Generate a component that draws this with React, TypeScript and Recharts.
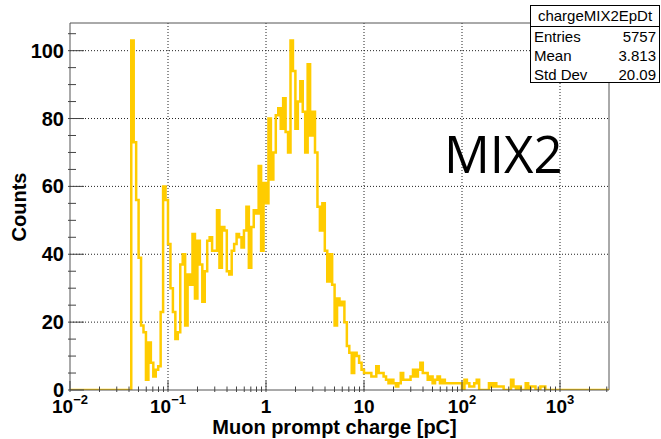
import React from "react";
import { LineChart, Line, XAxis, YAxis, ReferenceLine } from "recharts";

// log bins: 40 per decade from 1e-2 to 10^3.5
const binsPerDecade = 40;
const logMin = -2;
const logMax = 3.5;

const counts = [
  0, 0, 0, 0, 0, 0, 0, 0, 0, 0, 0, 0, 0, 0, 0, 0, 0, 0, 0, 0,
  0, 0, 0, 0, 0, 103, 73, 56, 39, 19, 17, 3, 14, 8, 4, 6, 7, 23, 60, 56,
  43, 30, 23, 15, 17, 37, 40, 19, 34, 31, 46, 27, 44, 37, 26, 35, 44, 45, 41, 41,
  53, 36, 48, 47, 35, 34, 41, 43, 46, 45, 42, 47, 54, 36, 48, 53, 52, 66, 41, 61,
  55, 80, 62, 70, 81, 83, 77, 86, 76, 70, 103, 94, 77, 85, 91, 82, 70, 96, 75, 82,
  70, 54, 47, 55, 41, 32, 40, 31, 19, 27, 25, 26, 20, 13, 11, 5, 11, 10, 8, 6,
  5, 5, 5, 4, 4, 7, 5, 5, 4, 3, 2, 3, 2, 1, 2, 5, 3, 3, 3, 4,
  6, 4, 6, 8, 5, 5, 3, 4, 2, 3, 4, 2, 3, 2, 2, 2, 2, 2, 2, 2,
  0, 3, 2, 1, 1, 2, 3, 0, 0, 0, 0, 2, 1, 2, 1, 1, 1, 0, 0, 0,
  3, 1, 0, 1, 0, 0, 2, 0, 1, 1, 0, 0, 1, 1, 0, 0, 0, 0, 0, 0,
  0, 0, 0, 0, 0, 0, 0, 0, 0, 0, 0, 0, 0, 0, 0, 0, 0, 0, 0, 0,
];

const xMajorTicks = [0.01, 0.1, 1, 10, 100, 1000];
const xMajorBase = ["10", "10", "1", "10", "10", "10"];
const xMajorExp = ["\u22122", "\u22121", "", "", "2", "3"];
const yTicks = [0, 5, 10, 15, 20, 25, 30, 35, 40, 45, 50, 55, 60, 65, 70, 75, 80, 85, 90, 95, 100, 105];
const yLabelled = [0, 20, 40, 60, 80, 100];

const statsTitle = "chargeMIX2EpDt";
const statsNames = ["Entries", "Mean", "Std Dev"];
const statsValues = ["5757", "3.813", "20.09"];

const xMin = 10 ** logMin;
const xMax = 10 ** logMax;
const yMax = 108.15;

const histData = counts.map((c, i) => ({ x: 10 ** (logMin + i / binsPerDecade), y: c }));
histData.push({ x: xMax, y: counts[counts.length - 1] });

// minor ticks 1..9 per decade
const xTicks: number[] = [];
for (let d = -2; d <= 3; d++) {
  for (let m = 1; m <= 9; m++) {
    const v = m * 10 ** d;
    if (v <= xMax) xTicks.push(v);
  }
}

const font = "'Liberation Sans', Arial, sans-serif";

function XTick(props: any) {
  const { x, y, payload } = props;
  const i = xMajorTicks.findIndex((t) => Math.abs(t - payload.value) / t < 1e-6);
  const len = i >= 0 ? 11 : 5.5;
  return (
    <g>
      <line x1={x} y1={y} x2={x} y2={y - len} stroke="#444" />
      {i >= 0 && (
        <text x={x} y={y + 21} textAnchor="middle" fontFamily={font} fontWeight="bold" fontSize={19} fill="#000">
          {xMajorBase[i]}
          {xMajorExp[i] && (
            <tspan dy={-9} fontSize={13}>
              {xMajorExp[i]}
            </tspan>
          )}
        </text>
      )}
    </g>
  );
}

function YTick(props: any) {
  const { x, y, payload } = props;
  const major = yLabelled.includes(payload.value);
  const len = major ? 16 : 8;
  return (
    <g>
      <line x1={x} y1={y} x2={x + len} y2={y} stroke="#444" />
      {major && (
        <text x={x - 4} y={y} dy="0.35em" textAnchor="end" fontFamily={font} fontWeight="bold" fontSize={20} fill="#000">
          {payload.value}
        </text>
      )}
    </g>
  );
}

const grid = { stroke: "#222", strokeDasharray: "1 2", strokeWidth: 1 };

export default function App() {
  return (
    <div style={{ position: "absolute", left: 0, top: 0, width: 661, height: 439, background: "#fff", fontFamily: font }}>
      <LineChart width={661} height={439} data={histData} margin={{ top: 23, right: 52, bottom: 0, left: 0 }}>
        <XAxis
          dataKey="x"
          type="number"
          scale="log"
          domain={[xMin, xMax]}
          ticks={xTicks}
          interval={0}
          tick={<XTick />}
          tickLine={false}
          tickSize={0}
          height={49}
          axisLine={{ stroke: "#555" }}
          allowDataOverflow
        />
        <YAxis
          type="number"
          domain={[0, yMax]}
          ticks={yTicks}
          interval={0}
          tick={<YTick />}
          tickLine={false}
          tickSize={0}
          width={70}
          axisLine={{ stroke: "#555" }}
          allowDataOverflow
        />
        {xMajorTicks.slice(1).map((v) => (
          <ReferenceLine key={"gx" + v} x={v} {...grid} />
        ))}
        {yLabelled.slice(1).map((v) => (
          <ReferenceLine key={"gy" + v} y={v} {...grid} />
        ))}
        <ReferenceLine x={xMax} stroke="#555" ifOverflow="visible" />
        <ReferenceLine y={yMax} stroke="#555" ifOverflow="visible" />
        <Line
          dataKey="y"
          type="stepAfter"
          stroke="#ffcc00"
          strokeWidth={2.5}
          dot={false}
          isAnimationActive={false}
        />
      </LineChart>

      <div style={{ position: "absolute", left: 444, top: 118, fontFamily: "'Open Sans', sans-serif", fontSize: 51, lineHeight: "70px", color: "#000" }}>
        MIX2
      </div>

      <div style={{ position: "absolute", left: 0, width: 661, top: 416, textAlign: "center", paddingLeft: 8, boxSizing: "border-box", fontWeight: "bold", fontSize: 20, lineHeight: "22px" }}>
        Muon prompt charge [pC]
      </div>

      <div style={{ position: "absolute", left: 19, top: 207, transform: "translate(-50%, -50%) rotate(-90deg)", fontWeight: "bold", fontSize: 20, lineHeight: "24px", whiteSpace: "nowrap" }}>
        Counts
      </div>

      <div style={{ position: "absolute", left: 530, top: 5, width: 130, height: 78, border: "1px solid #000", background: "#fff", fontSize: 15, boxSizing: "border-box" }}>
        <div style={{ height: 20, lineHeight: "20px", textAlign: "center", borderBottom: "1px solid #000" }}>{statsTitle}</div>
        {statsNames.map((n, i) => (
          <div key={n} style={{ display: "flex", justifyContent: "space-between", height: 19, lineHeight: "19px", padding: "0 3px 0 3px" }}>
            <span>{n}</span>
            <span>{statsValues[i]}</span>
          </div>
        ))}
      </div>
    </div>
  );
}
